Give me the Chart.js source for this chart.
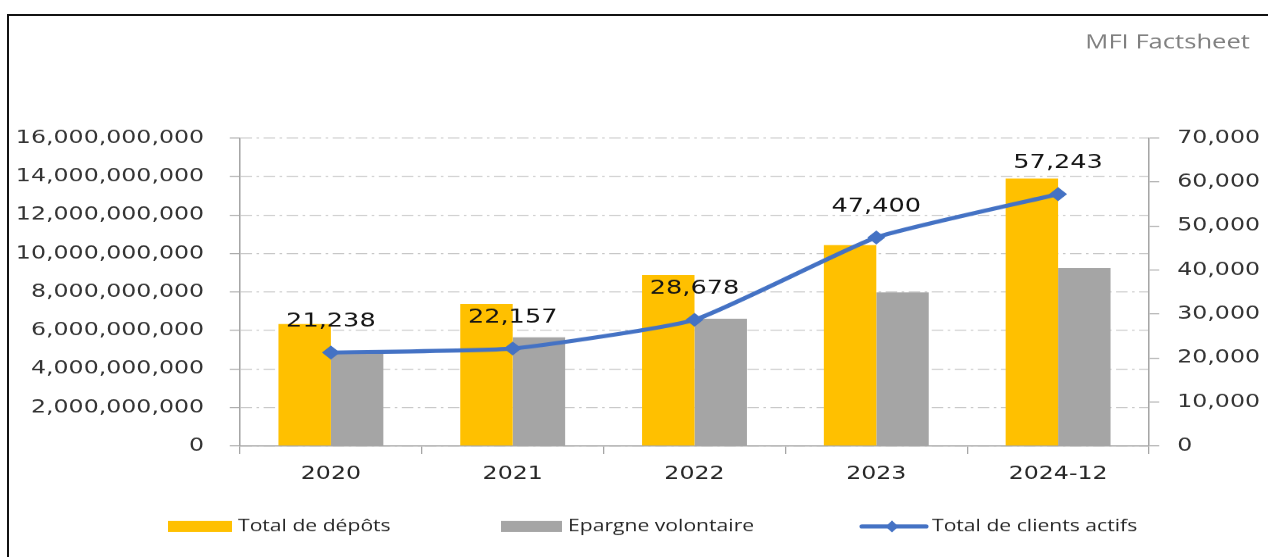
<!DOCTYPE html>
<html>
<head>
<meta charset="utf-8">
<script src="https://cdn.jsdelivr.net/npm/chart.js@4/dist/chart.umd.min.js"></script>
<style>
  html, body { margin: 0; padding: 0; background: #fff; overflow: hidden; }
  body { width: 1268px; height: 557px; position: relative; }
  #chart { position: absolute; left: 0; top: 0; }
  .frame {
    position: absolute; left: 7px; top: 14px; width: 1300px; height: 600px;
    border-top: 2px solid #111; border-left: 2px solid #111; pointer-events: none;
  }
</style>
</head>
<body>
<canvas id="chart" width="991" height="557" style="width:1268px;height:557px"></canvas>
<div class="frame"></div>
<script>
const categories = ["2020", "2021", "2022", "2023", "2024-12"];
const totalDepots = [6.34e9, 7.38e9, 8.88e9, 10.44e9, 13.9e9];
const epargneVolontaire = [4.8e9, 5.65e9, 6.61e9, 7.98e9, 9.25e9];
const clientsActifs = [21238, 22157, 28678, 47400, 57243];
const leftTicks = [0, 2e9, 4e9, 6e9, 8e9, 10e9, 12e9, 14e9, 16e9];
const rightTicks = [0, 10000, 20000, 30000, 40000, 50000, 60000, 70000];
const seriesNames = ["Total de dépôts", "Epargne volontaire", "Total de clients actifs"];

// the picture is stretched sideways, so the chart is drawn narrow and widened
const S = 1.28;
const px = (x) => x / S;

const fmt = (v) => Number(v).toLocaleString("en-US");

const tickFont = { family: "DejaVu Sans", size: 18.5 };
const axisGray = "#a6a6a6";

const labelsPlugin = {
  id: "pointLabels",
  afterDatasetsDraw(chart) {
    const ctx = chart.ctx;
    const meta = chart.getDatasetMeta(2);
    ctx.save();
    ctx.font = "20px 'DejaVu Sans'";
    ctx.fillStyle = "#141414";
    ctx.textAlign = "center";
    ctx.textBaseline = "middle";
    meta.data.forEach((pt, i) => {
      ctx.fillText(fmt(clientsActifs[i]), pt.x, pt.y - 31);
    });
    ctx.restore();
  },
};

const extrasPlugin = {
  id: "extras",
  afterDraw(chart) {
    const ctx = chart.ctx;
    ctx.save();

    // title top right
    ctx.font = "20px 'Open Sans'";
    ctx.fillStyle = "#808080";
    ctx.textAlign = "right";
    ctx.textBaseline = "middle";
    ctx.fillText("MFI Factsheet", px(1250), 43);

    // legend
    const ly = 526.5;
    ctx.font = "16.5px 'Open Sans'";
    ctx.textAlign = "left";

    ctx.fillStyle = "#FFC000";
    ctx.fillRect(px(168), 521, px(232) - px(168), 11);
    ctx.fillStyle = "#262626";
    ctx.fillText(seriesNames[0], px(238), ly);

    ctx.fillStyle = "#A5A5A5";
    ctx.fillRect(px(501), 521, px(562) - px(501), 11);
    ctx.fillStyle = "#262626";
    ctx.fillText(seriesNames[1], px(568), ly);

    ctx.strokeStyle = "#4472C4";
    ctx.lineWidth = 4;
    ctx.lineCap = "round";
    ctx.beginPath();
    ctx.moveTo(px(862), ly);
    ctx.lineTo(px(926), ly);
    ctx.stroke();
    ctx.fillStyle = "#4472C4";
    const dx = px(892);
    ctx.beginPath();
    ctx.moveTo(dx, ly - 6);
    ctx.lineTo(dx + 5, ly);
    ctx.lineTo(dx, ly + 6);
    ctx.lineTo(dx - 5, ly);
    ctx.closePath();
    ctx.fill();
    ctx.fillStyle = "#262626";
    ctx.fillText(seriesNames[2], px(932), ly);

    ctx.restore();
  },
};

new Chart(document.getElementById("chart"), {
  data: {
    labels: categories,
    datasets: [
      {
        type: "bar",
        label: seriesNames[0],
        data: totalDepots,
        yAxisID: "y",
        backgroundColor: "#FFC000",
        categoryPercentage: 0.577,
        barPercentage: 1,
        order: 2,
      },
      {
        type: "bar",
        label: seriesNames[1],
        data: epargneVolontaire,
        yAxisID: "y",
        backgroundColor: "#A5A5A5",
        categoryPercentage: 0.577,
        barPercentage: 1,
        order: 2,
      },
      {
        type: "line",
        label: seriesNames[2],
        data: clientsActifs,
        yAxisID: "y1",
        borderColor: "#4472C4",
        borderWidth: 4,
        tension: 0.15,
        pointStyle: "rectRot",
        pointRadius: 7,
        pointBackgroundColor: "#4472C4",
        pointBorderColor: "#4472C4",
        pointBorderWidth: 0,
        order: 1,
      },
    ],
  },
  options: {
    responsive: false,
    devicePixelRatio: S,
    animation: false,
    events: [],
    layout: { padding: { top: 138, bottom: 71, left: 0, right: 0 } },
    plugins: {
      legend: { display: false },
      tooltip: { enabled: false },
    },
    scales: {
      x: {
        offset: true,
        grid: {
          offset: true,
          drawOnChartArea: false,
          tickLength: 8,
          tickColor: axisGray,
        },
        border: { display: true, color: axisGray, width: 1.2 },
        ticks: { color: "#262626", font: tickFont, padding: 9, maxRotation: 0 },
        afterFit(axis) {
          axis.height = 40;
        },
      },
      y: {
        position: "left",
        min: 0,
        max: 16e9,
        afterBuildTicks(axis) {
          axis.ticks = leftTicks.map((v) => ({ value: v }));
        },
        grid: {
          color: "#c4c4c4",
          tickLength: 8,
          tickColor: axisGray,
          tickBorderDash: [],
        },
        border: { display: true, color: axisGray, width: 1.2, dash: [9, 3.5, 2, 3.5] },
        ticks: { color: "#333333", font: tickFont, padding: 20, callback: (v) => fmt(v) },
        afterFit(axis) {
          axis.width = px(240);
        },
      },
      y1: {
        position: "right",
        min: 0,
        max: 70000,
        afterBuildTicks(axis) {
          axis.ticks = rightTicks.map((v) => ({ value: v }));
        },
        grid: {
          drawOnChartArea: false,
          tickLength: 8,
          tickColor: axisGray,
        },
        border: { display: true, color: axisGray, width: 1.2 },
        ticks: { color: "#333333", font: tickFont, padding: 14, callback: (v) => fmt(v) },
        afterFit(axis) {
          axis.width = 991 - px(1149);
        },
      },
    },
  },
  plugins: [labelsPlugin, extrasPlugin],
});
</script>
</body>
</html>
